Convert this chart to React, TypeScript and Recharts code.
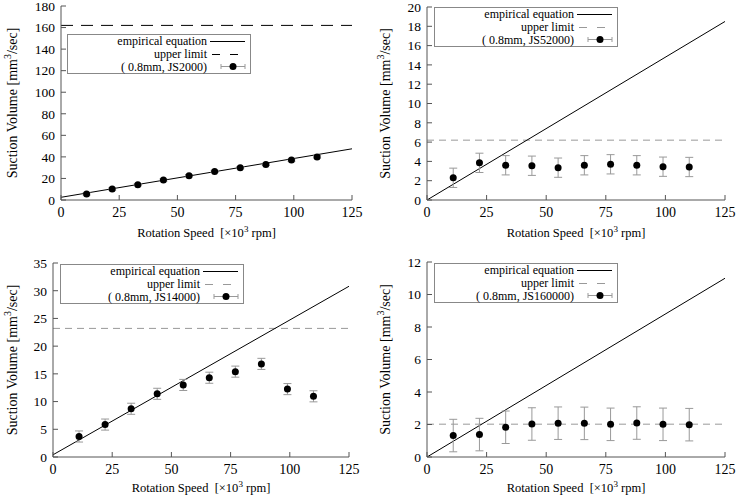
import React from 'react';
import { ComposedChart, Line, Scatter, ErrorBar, XAxis, YAxis, ReferenceLine, Label } from 'recharts';

// rotation speed [x10^3 rpm] of each measurement
const speeds = [11, 22, 33, 44, 55, 66, 77, 88, 99, 110];
const xTicks = [0, 25, 50, 75, 100, 125];

// measured suction volume [mm^3/sec]
const js2000 = [5.6, 10.2, 14.2, 18.5, 22.5, 26.5, 30.0, 33.0, 37.0, 40.0];
const js52000 = [2.3, 3.85, 3.6, 3.55, 3.35, 3.6, 3.7, 3.6, 3.45, 3.42];
const js14000 = [3.7, 5.85, 8.7, 11.4, 13.0, 14.3, 15.4, 16.8, 12.25, 10.95];
const js160000 = [1.32, 1.38, 1.83, 2.03, 2.08, 2.07, 2.01, 2.09, 2.01, 1.99];

// error bar half-widths
const err2000 = [1, 1, 1, 1, 1, 1, 1, 1, 1, 1];
const err52000 = [1, 1, 1, 1, 1, 1, 1, 1, 1, 1];
const err14000 = [1.0, 1.0, 1.0, 1.0, 1.0, 1.0, 1.0, 1.0, 1.0, 1.0];
const err160000 = [1, 1, 1, 1, 1, 1, 1, 1, 1, 1];

// empirical equation at x = 0 and x = 125
const empX = [0, 125];
const emp2000 = [2.5, 47.5];
const emp52000 = [0, 18.5];
const emp14000 = [0.4, 30.8];
const emp160000 = [0, 11.0];

// upper limit
const limits = [162, 6.2, 23.2, 2.02];

// y axis ticks
const yTicks2000 = [0, 20, 40, 60, 80, 100, 120, 140, 160, 180];
const yTicks52000 = [0, 2, 4, 6, 8, 10, 12, 14, 16, 18, 20];
const yTicks14000 = [0, 5, 10, 15, 20, 25, 30, 35];
const yTicks160000 = [0, 2, 4, 6, 8, 10, 12];

const labels = ['( 0.8mm, JS2000)', '( 0.8mm, JS52000)', '( 0.8mm, JS14000)', '( 0.8mm, JS160000)'];

const FONT = "'Liberation Serif', 'Times New Roman', Times, 'DejaVu Serif', serif";
const AXIS = '#555';

const points = (ys: number[], errs: number[]) => speeds.map((x, i) => ({ x, y: ys[i], err: errs[i] }));
const line = (ys: number[]) => empX.map((x, i) => ({ x, y: ys[i] }));

const panels = [
  { data: points(js2000, err2000), emp: line(emp2000), limit: limits[0], yTicks: yTicks2000, label: labels[0], limitColor: '#000', dash: '12 8',
    left: 0, top: 0, w: 368, h: 249, yw: 61, right: 16, mtop: 6, xh: 49, ylx: 12, legend: { left: 67, top: 34, h: 40 } },
  { data: points(js52000, err52000), emp: line(emp52000), limit: limits[1], yTicks: yTicks52000, label: labels[1], limitColor: '#999', dash: '7 5',
    left: 368, top: 0, w: 369, h: 249, yw: 59, right: 12, mtop: 7, xh: 49, ylx: 17, legend: { left: 434, top: 7, h: 40 } },
  { data: points(js14000, err14000), emp: line(emp14000), limit: limits[2], yTicks: yTicks14000, label: labels[2], limitColor: '#999', dash: '7 5',
    left: 0, top: 249, w: 368, h: 249, yw: 53, right: 19, mtop: 14, xh: 41, ylx: 12, legend: { left: 60, top: 264, h: 40 } },
  { data: points(js160000, err160000), emp: line(emp160000), limit: limits[3], yTicks: yTicks160000, label: labels[3], limitColor: '#999', dash: '7 5',
    left: 368, top: 249, w: 369, h: 249, yw: 59, right: 12, mtop: 13, xh: 41, ylx: 17, legend: { left: 434, top: 263, h: 40 } },
];

const Dot = (props: any) => <circle cx={props.cx} cy={props.cy} r={3.5} fill="#000" />;

const XTitle = (dy: number) => (props: any) => {
  const vb = props.viewBox || {};
  return (
    <text x={vb.x + vb.width / 2} y={vb.y + dy} textAnchor="middle" fontSize={12.5} fontFamily={FONT} fill="#000" style={{ whiteSpace: 'pre' }}>
      Rotation Speed  [×10<tspan dy={-5} fontSize={9}>3</tspan><tspan dy={5}> rpm]</tspan>
    </text>
  );
};

const YTitle = (dx: number) => (props: any) => {
  const vb = props.viewBox || {};
  const cx = vb.x + dx;
  const cy = vb.y + vb.height / 2;
  return (
    <text x={cx} y={cy} transform={`rotate(-90, ${cx}, ${cy})`} textAnchor="middle" dominantBaseline="central" fontSize={14} fontFamily={FONT} fill="#000">
      Suction Volume [mm<tspan dy={-5} fontSize={10}>3</tspan><tspan dy={5}>/sec]</tspan>
    </text>
  );
};

const LegendBox = ({ p }: { p: any }) => {
  const rows = ['empirical equation', 'upper limit', p.label];
  return (
    <div style={{ position: 'absolute', left: p.legend.left, top: p.legend.top, width: 184, height: p.legend.h, boxSizing: 'border-box',
      border: '1px solid #888', background: '#fff', fontFamily: FONT, fontSize: 12, paddingTop: 0 }}>
      {rows.map((r, i) => (
        <div key={i} style={{ display: 'flex', alignItems: 'center', height: 12.8 }}>
          <span style={{ width: 139, textAlign: 'right', whiteSpace: 'pre', lineHeight: '12.8px' }}>{r}</span>
          <svg width={38} height={11} style={{ marginLeft: 3 }}>
            {i === 0 && <line x1={0} x2={35} y1={5.5} y2={5.5} stroke="#000" />}
            {i === 1 && <line x1={2} x2={35} y1={5.5} y2={5.5} stroke={p.limitColor} strokeDasharray="8 10" />}
            {i === 2 && (
              <g stroke="#999">
                <line x1={11} x2={35} y1={5.5} y2={5.5} />
                <line x1={11} x2={11} y1={3} y2={8} />
                <line x1={35} x2={35} y1={3} y2={8} />
                <circle cx={23} cy={5.5} r={3.5} fill="#000" stroke="none" />
              </g>
            )}
          </svg>
        </div>
      ))}
    </div>
  );
};

const Panel = ({ p }: { p: any }) => {
  const yMax = p.yTicks[p.yTicks.length - 1];
  const xTickStyle = { fill: '#000', fontSize: 14, fontFamily: FONT };
  const yTickStyle = { fill: '#000', fontSize: 13.5, fontFamily: FONT };
  return (
    <div style={{ position: 'absolute', left: p.left, top: p.top, width: p.w, height: p.h }}>
      <ComposedChart width={p.w} height={p.h} margin={{ top: p.mtop, right: p.right, left: 0, bottom: 0 }}>
        <XAxis dataKey="x" type="number" domain={[0, 125]} ticks={xTicks} allowDataOverflow height={p.xh}
          stroke={AXIS} tickSize={-5} tickMargin={12} tick={xTickStyle} tickLine={{ stroke: AXIS }}>
          <Label content={XTitle(p.xh > 45 ? 37 : 35)} />
        </XAxis>
        <XAxis xAxisId="top" orientation="top" type="number" domain={[0, 125]} ticks={xTicks} allowDataOverflow height={0}
          stroke={AXIS} tickSize={-5} tick={false} tickLine={{ stroke: AXIS }} />
        <YAxis dataKey="y" type="number" domain={[0, yMax]} ticks={p.yTicks} allowDataOverflow width={p.yw} interval={0}
          stroke={AXIS} tickSize={-5} tickMargin={11} tick={yTickStyle} tickLine={{ stroke: AXIS }}>
          <Label content={YTitle(p.ylx)} />
        </YAxis>
        <YAxis yAxisId="r" orientation="right" type="number" domain={[0, yMax]} ticks={p.yTicks} allowDataOverflow width={0}
          stroke={AXIS} tickSize={-5} tick={false} tickLine={{ stroke: AXIS }} />
        <ReferenceLine y={p.limit} stroke={p.limitColor} strokeDasharray={p.dash} strokeWidth={1} />
        <Line data={p.emp} dataKey="y" stroke="#000" strokeWidth={1} dot={false} activeDot={false} isAnimationActive={false} />
        <Scatter data={p.data} dataKey="y" shape={Dot} isAnimationActive={false}>
          <ErrorBar dataKey="err" direction="y" width={4} stroke="#999" strokeWidth={1} />
        </Scatter>
      </ComposedChart>
    </div>
  );
};

export default function App() {
  return (
    <div style={{ position: 'absolute', left: 0, top: 0, width: 737, height: 498, background: '#fff' }}>
      {panels.map((p, i) => <Panel key={i} p={p} />)}
      {panels.map((p, i) => <LegendBox key={'l' + i} p={p} />)}
    </div>
  );
}
